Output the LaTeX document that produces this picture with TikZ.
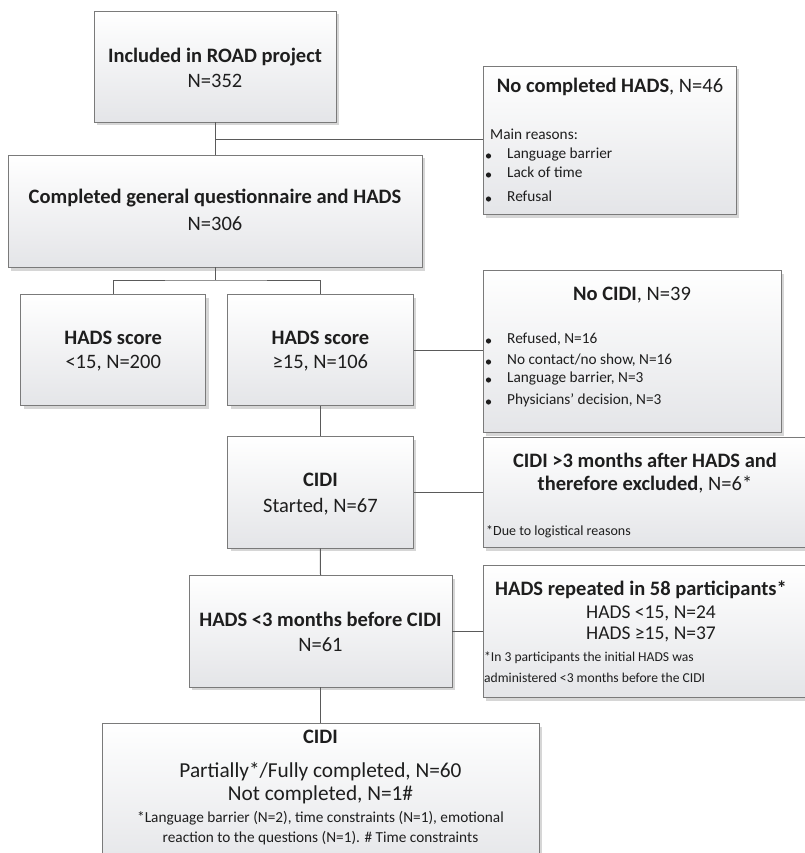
\documentclass[tikz,border=0pt]{standalone}
\usepackage{fontspec}
\setmainfont{Carlito}
\usetikzlibrary{shadows}
\definecolor{boxline}{HTML}{7A7A7A}
\definecolor{connc}{HTML}{5A5A5A}
\definecolor{boxbot}{HTML}{E4E5E8}
\definecolor{txt}{HTML}{1E1E1E}
\tikzset{
  fbox/.style={draw=boxline, line width=0.9pt, top color=white, bottom color=boxbot,
    drop shadow={shadow xshift=3pt, shadow yshift=-3.5pt, fill=black, opacity=0.16},
    inner sep=0pt},
  conn/.style={draw=connc, line width=1pt},
  big/.style={inner sep=0pt, text=txt, anchor=mid, font=\fontsize{20.5}{25}\selectfont},
  mid/.style={inner sep=0pt, text=txt, anchor=mid, font=\fontsize{19.5}{23}\selectfont},
  small/.style={inner sep=0pt, text=txt, font=\fontsize{15.3}{18}\selectfont},
  tiny/.style={inner sep=0pt, text=txt, font=\fontsize{14}{17}\selectfont},
  foot/.style={inner sep=0pt, text=txt, font=\fontsize{13.6}{16}\selectfont},
  bul/.style={fill=txt},
}
\begin{document}
\begin{tikzpicture}[x=1pt,y=-1pt]
\fill[white] (0,0) rectangle (804,853);
\useasboundingbox (0,0) rectangle (804,853);

% main column boxes
\node[fbox, minimum width=242pt, minimum height=111pt] (a) at (215,66.5) {};
\node[fbox, minimum width=414pt, minimum height=112pt] (b) at (215,211) {};
\node[fbox, minimum width=185pt, minimum height=111.7pt] (c1) at (113.2,350) {};
\node[fbox, minimum width=185.3pt, minimum height=111.7pt] (c2) at (320.4,350) {};
\node[fbox, minimum width=185.3pt, minimum height=111.3pt] (cidi) at (320.4,492.3) {};
\node[fbox, minimum width=263pt, minimum height=111.3pt] (h3) at (320.5,631.3) {};
\node[fbox, minimum width=437pt, minimum height=147pt] (fin) at (320.5,796.5) {};

% side boxes
\node[fbox, minimum width=253pt, minimum height=148pt] (s1) at (609.5,140) {};
\node[fbox, minimum width=298pt, minimum height=162pt] (s2) at (632,351) {};
\node[fbox, minimum width=325pt, minimum height=110pt] (s3) at (645.5,492) {};
\node[fbox, minimum width=325pt, minimum height=132pt] (s4) at (645.5,631) {};

% connectors
\coordinate (j1) at (a.south |- s1.west);
\draw[conn] (a.south) -- (b.north);
\draw[conn] (j1) -- (s1.west);
\coordinate (j2) at (215,280);
\draw[conn] (b.south) -- (j2);
\draw[conn] (c1.north) |- (j2) -| (c2.north);
\draw[conn] (c2.east) -- (c2.east -| s2.west);
\draw[conn] (c2.south) -- (cidi.north);
\draw[conn] (cidi.east) -- (cidi.east -| s3.west);
\draw[conn] (cidi.south) -- (h3.north);
\draw[conn] (h3.east) -- (h3.east -| s4.west);
\draw[conn] (h3.south) -- (fin.north);

% main texts
\node[big] (at1) at (215,60) {\textbf{Included in ROAD project}};
\node[big] (at2) at (215,85) {N=352};
\node[big] (bt1) at (215,201) {\textbf{Completed general questionnaire and HADS}};
\node[big] (bt2) at (215,228) {N=306};
\node[big] (c1t1) at (113.2,342) {\textbf{HADS score}};
\node[big] (c1t2) at (113.2,366) {<15, N=200};
\node[big] (c2t1) at (320.4,342) {\textbf{HADS score}};
\node[big] (c2t2) at (320.4,366) {≥15, N=106};
\node[big] (ct1) at (320.4,484) {\textbf{CIDI}};
\node[big] (ct2) at (320.4,510) {Started, N=67};
\node[big] (ht1) at (320.5,624) {\textbf{HADS <3 months before CIDI}};
\node[big] (ht2) at (320.5,649) {N=61};

% s1 text
\node[big] (s1t) at (610,90) {\textbf{No completed HADS}, N=46};
\node[small, anchor=mid west] (s1m) at (490,137) {Main reasons:};
\node[small, anchor=mid west] (s1a) at (507,156) {Language barrier};
\node[small, anchor=mid west] (s1b) at (507,175) {Lack of time};
\node[small, anchor=mid west] (s1c) at (507,199) {Refusal};
\foreach \yy in {156,175,199} \fill[bul] (488.5,\yy) circle[radius=2.6pt];

% s2 text
\node[big] (s2t) at (632,298) {\textbf{No CIDI}, N=39};
\node[small, anchor=mid west] (s2a) at (507,341) {Refused, N=16};
\node[small, anchor=mid west] (s2b) at (507,362) {No contact/no show, N=16};
\node[small, anchor=mid west] (s2c) at (507,380) {Language barrier, N=3};
\node[small, anchor=mid west] (s2d) at (507,402) {Physicians’ decision, N=3};
\foreach \yy in {341,362,380,402} \fill[bul] (488.5,\yy) circle[radius=2.6pt];

% s3 text
\node[big] (s3t) at (645,465) {\textbf{CIDI >3 months after HADS and}};
\node[big] (s3u) at (645,488) {\textbf{therefore excluded}, N=6*};
\node[tiny, anchor=mid west] (s3f) at (486,533) {*Due to logistical reasons};

% s4 text
\node[big] (s4t) at (641,593) {\textbf{HADS repeated in 58 participants*}};
\node[mid] (s4a) at (651,616) {HADS <15, N=24};
\node[mid] (s4b) at (651,637) {HADS ≥15, N=37};
\node[foot, anchor=mid west] (s4f) at (484,659) {*In 3 participants the initial HADS was};
\node[foot, anchor=mid west] (s4g) at (484,680) {administered <3 months before the CIDI};

% fin text
\node[big] (f1) at (320.5,741) {\textbf{CIDI}};
\node[big, font=\fontsize{21.3}{25}\selectfont] (f2) at (320.5,775) {Partially*/Fully completed, N=60};
\node[big, font=\fontsize{21.3}{25}\selectfont] (f3) at (320.5,798) {Not completed, N=1\#};
\node[small, anchor=mid] (f4) at (320.5,820.5) {*Language barrier (N=2), time constraints (N=1), emotional};
\node[small, anchor=mid] (f5) at (320.5,840.5) {reaction to the questions (N=1). \# Time constraints};
\end{tikzpicture}
\end{document}
